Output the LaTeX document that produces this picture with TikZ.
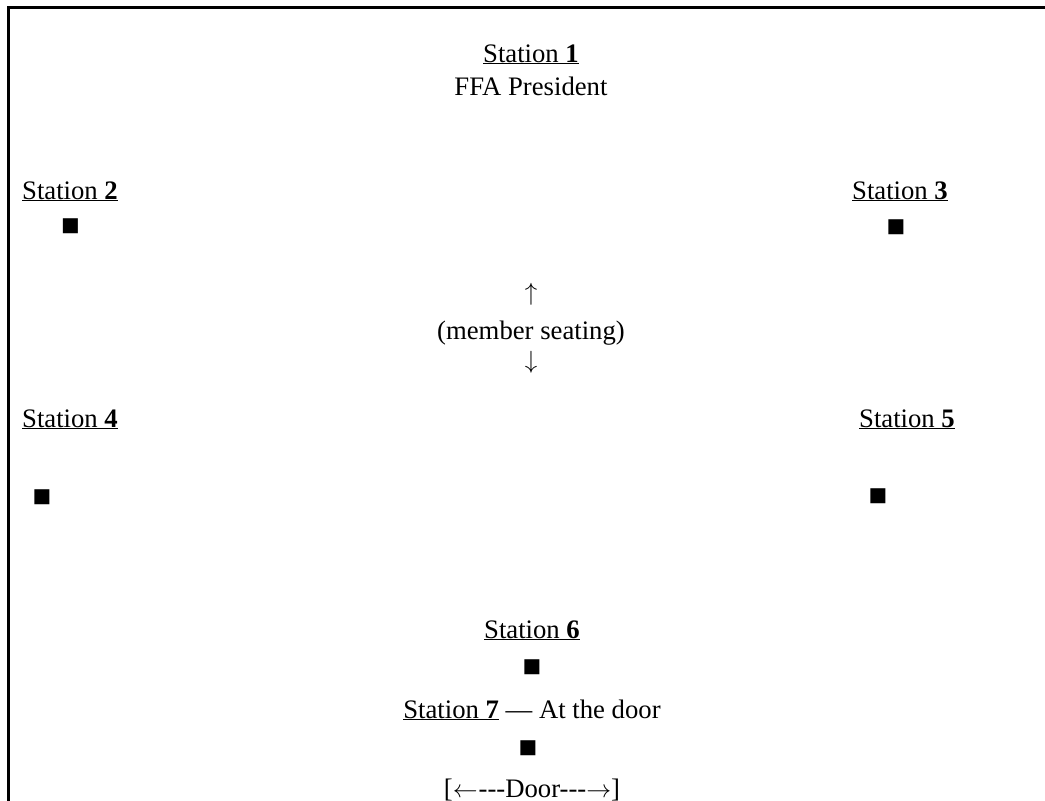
\documentclass[tikz,border=0pt]{standalone}
\usepackage{fontspec}
\setmainfont{Liberation Serif}
\begin{document}
\begin{tikzpicture}[x=1pt,y=-1pt,
  lbl/.style={inner sep=0pt,outer sep=0pt,anchor=base,font=\fontsize{26.7}{32}\selectfont},
  sq/.style={inner sep=0pt,outer sep=0pt,anchor=center,font=\fontsize{31}{36}\selectfont},
  arr/.style={inner sep=0pt,outer sep=0pt,anchor=center,font=\fontsize{26}{30}\selectfont},
  frame/.style={line width=3pt,line cap=rect}]
\useasboundingbox (0,0) rectangle (1045,801);
\draw[frame] (1046,7) -- (8,7) -- (8,802);
\node[lbl] (s1) at (531,62) {\underline{Station \textbf{1}}};
\node[lbl] (s1b) at (531,95) {FFA President};
\node[lbl] (s2) at (70,199) {\underline{Station \textbf{2}}};
\node[sq] (q2) at (70.5,227) {■};
\node[lbl] (s3) at (900,199) {\underline{Station \textbf{3}}};
\node[sq] (q3) at (896,228) {■};
\node[arr] (up) at (531,294) {$\uparrow$};
\node[lbl] (ms) at (531,339) {(member seating)};
\node[arr] (dn) at (531,362) {$\downarrow$};
\node[lbl] (s4) at (70,427) {\underline{Station \textbf{4}}};
\node[sq] (q4) at (42,498) {■};
\node[lbl] (s5) at (907,427) {\underline{Station \textbf{5}}};
\node[sq] (q5) at (878,497) {■};
\node[lbl] (s6) at (532,638) {\underline{Station \textbf{6}}};
\node[sq] (q6) at (532,668) {■};
\node[lbl] (s7) at (532,718) {\underline{Station \textbf{7}} — At the door};
\node[sq] (q7) at (528,749) {■};
\node[lbl] (door) at (532,797) {[$\leftarrow$\kern1pt{-}{-}{-}Door{-}{-}{-}$\rightarrow$]};
\end{tikzpicture}
\end{document}
